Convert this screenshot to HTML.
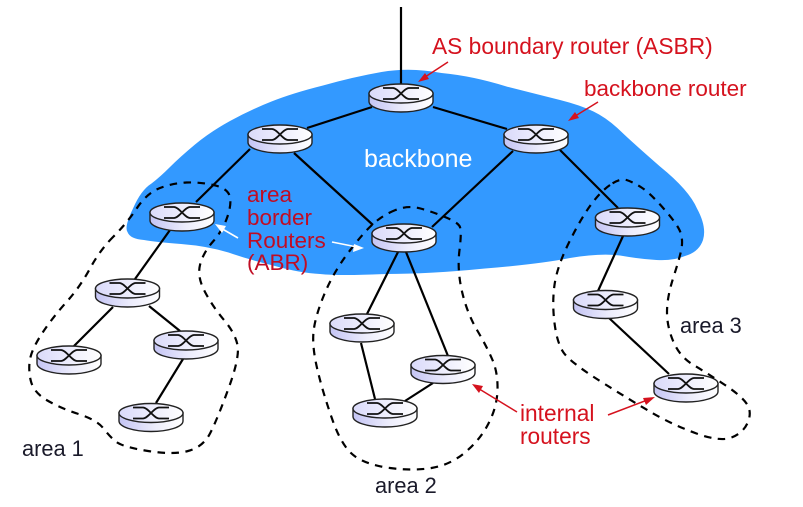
<!DOCTYPE html>
<html>
<head>
<meta charset="utf-8">
<style>
html,body{margin:0;padding:0;background:#fff}
svg{display:block}
text{font-family:"Liberation Sans",sans-serif;font-size:22.5px}
.r{fill:#d5121e}
.r2{fill:#c00d24}
.k{fill:#1a1a2a;font-size:21.8px}
.l{stroke:#000;stroke-width:2.2;fill:none}
.d{stroke:#000;stroke-width:2.2;fill:none;stroke-dasharray:7.5 6.5}
.ra{stroke:#d5121e;stroke-width:1.5;fill:none}
</style>
</head>
<body>
<svg width="803" height="507" viewBox="0 0 803 507" xmlns="http://www.w3.org/2000/svg">
<defs>
<linearGradient id="g" x1="0" x2="1" y1="0" y2="0">
<stop offset="0" stop-color="#c4c4f4"/><stop offset="0.55" stop-color="#ececfc"/><stop offset="1" stop-color="#fff"/>
</linearGradient>
<linearGradient id="t" x1="0" x2="1" y1="0" y2="0">
<stop offset="0" stop-color="#dadafa"/><stop offset="1" stop-color="#fff"/>
</linearGradient>
<g id="rt">
<path d="M-32 -4.5V3.5C-32 9.5 -17 14 0 14S32 9.5 32 3.5V-4.5Z" fill="url(#g)" stroke="#222" stroke-width="1.4"/>
<ellipse cx="0" cy="-4.5" rx="32" ry="9.5" fill="url(#t)" stroke="#222" stroke-width="1.4"/>
<path d="M-18 -10H-8C-3 -10 3 1 8 1H18M-18 1H-8C-3 1 3 -10 8 -10H18" fill="none" stroke="#111" stroke-width="1.8"/>
</g>
</defs>

<path fill="#3399ff" d="M441.5 73Q473 76 506.5 86.5Q540 95 560 100Q580 105 593.5 111.5Q607 118 620 130.5Q633 143 660 166.5Q689 190 697 208.5Q707 227 703 240Q699 252 685 256Q673 261 656.5 260Q640 259 620 255.5Q600 253 570 258Q540 264 485 268.5Q430 274 385 274Q340 276 320 274Q300 273 275 266Q250 260 228.5 252.5Q207 246 181 244Q155 242 144 240Q130 239 127.5 232Q124 227 133 208.5Q141 190 151.5 183.5Q160 177 170 167Q180 157 195 144.5Q210 132 230 121Q250 110 271.5 101.5Q293 93 323 85.5Q353 77 381.5 72Q410 67 441.5 73Z"/>

<g class="l">
<path d="M401 7V86"/>
<path d="M372 107L307 128"/>
<path d="M433 107L507 129"/>
<path d="M250 149L196 202"/>
<path d="M294 153L373 225"/>
<path d="M513 151L432 227"/>
<path d="M560 150L618 208"/>
<path d="M170 230L135 279"/>
<path d="M113 307L74 346"/>
<path d="M149 306L180 331"/>
<path d="M183 359L156 403"/>
<path d="M398 252L367 314"/>
<path d="M406 252L448 356"/>
<path d="M361 343L375 399"/>
<path d="M433 383L405 401"/>
<path d="M623 236L598 291"/>
<path d="M609 318L669 374"/>
</g>

<use href="#rt" x="401" y="98"/>
<use href="#rt" x="280" y="139"/>
<use href="#rt" x="536" y="139"/>
<use href="#rt" x="182" y="217"/>
<use href="#rt" x="404" y="238"/>
<use href="#rt" x="627.5" y="222"/>
<use href="#rt" x="127.5" y="293"/>
<use href="#rt" x="69" y="360"/>
<use href="#rt" x="186" y="345"/>
<use href="#rt" x="151" y="417.5"/>
<use href="#rt" x="362" y="328"/>
<use href="#rt" x="443" y="369.5"/>
<use href="#rt" x="385" y="413"/>
<use href="#rt" x="605.5" y="304.5"/>
<use href="#rt" x="686" y="388"/>

<g class="d">
<path d="M113.5 236.5Q100 250 90 268.5Q80 287 66.5 302Q53 317 43 332Q33 347 30.5 357Q28 367 30.5 379.5Q33 392 46.5 400Q60 408 78.5 414Q97 420 103.5 428.5Q110 437 116.5 442Q123 447 148 451Q173 455 188 451Q203 447 210 433.5Q217 420 228.5 388.5Q240 357 237.5 345Q235 333 224 320Q213 307 205 292Q197 277 200 265Q203 253 213 241.5Q223 230 227.5 216.5Q232 203 229.5 195.5Q227 188 213.5 185Q200 182 186.5 182.5Q173 183 160 188Q147 193 137 208Q127 223 113.5 236.5Z"/>
<path d="M395.5 210Q383 215 373 224Q363 233 348 253Q333 273 324 295Q315 317 313.5 332Q312 347 317.5 370Q323 393 332.5 420Q342 447 354.5 456Q367 465 390 468Q413 471 431.5 468Q450 465 465 452.5Q480 440 488.5 423.5Q497 407 497.5 390Q498 373 492.5 360Q487 347 477 330Q467 313 462 291.5Q457 270 459.5 250Q462 230 459.5 226Q457 222 445 217Q433 212 420.5 208.5Q408 205 395.5 210Z"/>
<path d="M610 185Q600 192 590 206Q580 220 568.5 243.5Q557 267 554.5 285Q552 303 554.5 323Q557 343 563.5 352.5Q570 362 600 381Q630 400 651.5 412.5Q673 425 696.5 433.5Q720 442 731.5 437.5Q743 433 747.5 423Q752 413 747.5 405Q743 397 725 385Q707 373 693.5 365Q680 357 673.5 342Q667 327 667 312Q667 297 673.5 277Q680 257 681.5 248.5Q683 240 680.5 232.5Q678 225 664 209Q650 193 641.5 187.5Q633 182 626.5 180Q620 178 610 185Z"/>
</g>

<g class="ra">
<path d="M448 62L422 79"/>
<path d="M598 102L572 118"/>
<path d="M517 412L476 387"/>
<path d="M608 415L650 399"/>
</g>
<g fill="#d5121e">
<path d="M418 82L425 73L429 79Z"/>
<path d="M568 121L575 112L579 118Z"/>
<path d="M472 384L483 386L479 393Z"/>
<path d="M655 397L646 405L643 398Z"/>
</g>
<g stroke="#fff" stroke-width="1.6" fill="none">
<path d="M238 238L219 227"/>
<path d="M332 242L357 247"/>
</g>
<g fill="#fff">
<path d="M215 224L226 226L222 233Z"/>
<path d="M364 248L353 252L354 244Z"/>
</g>

<text class="r" x="432" y="54" style="font-size:22.75px">AS boundary router (ASBR)</text>
<text class="r" x="584" y="96">backbone router</text>
<text x="364" y="167" fill="#fff" style="font-size:25px">backbone</text>
<text class="r2" x="247" y="202">area</text>
<text class="r2" x="247" y="225">border</text>
<text class="r2" x="247" y="248">Routers</text>
<text class="r2" x="247" y="270">(ABR)</text>
<text class="r" x="520" y="421" style="font-size:22.7px">internal</text>
<text class="r" x="520" y="444" style="font-size:22.7px">routers</text>
<text class="k" x="22" y="456">area 1</text>
<text class="k" x="375" y="493">area 2</text>
<text class="k" x="680" y="333">area 3</text>
</svg>
</body>
</html>
